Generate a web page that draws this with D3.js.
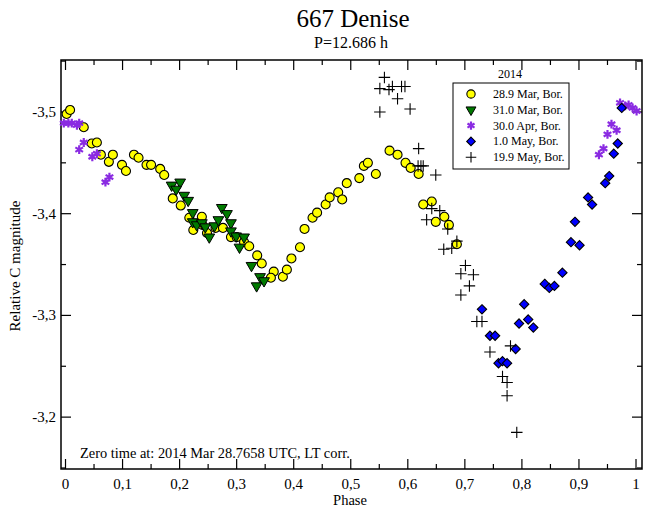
<!DOCTYPE html>
<html><head><meta charset="utf-8">
<script src="https://cdn.jsdelivr.net/npm/d3@7"></script>
<style>body{margin:0;background:#fff}svg{display:block}text{font-family:"Liberation Serif","Times New Roman",serif;fill:#000}</style>
</head><body><svg id="c" width="646" height="510"></svg>
<script>
const title = "667 Denise";
const subtitle = "P=12.686 h";
const xLabel = "Phase";
const yLabel = "Relative C magnitude";
const note = "Zero time at: 2014 Mar 28.7658 UTC, LT corr.";
const legendTitle = "2014";
const seriesNames = ["28.9 Mar, Bor.", "31.0 Mar, Bor.", "30.0 Apr, Bor.", "1.0 May, Bor.", "19.9 May, Bor."];
const xTicks = [0,0.1,0.2,0.3,0.4,0.5,0.6,0.7,0.8,0.9,1];
const yTicks = [-3.5,-3.4,-3.3,-3.2];

// [phase, magnitude]
const mar28 = [[0.002,-3.498],[0.008,-3.502],[0.032,-3.485],[0.046,-3.469],[0.055,-3.470],[0.062,-3.458],[0.076,-3.451],[0.083,-3.458],[0.099,-3.448],[0.106,-3.442],[0.120,-3.458],[0.128,-3.455],[0.142,-3.448],[0.150,-3.448],[0.166,-3.444],[0.173,-3.438],[0.188,-3.415],[0.202,-3.408],[0.217,-3.396],[0.239,-3.397],[0.224,-3.384],[0.240,-3.389],[0.248,-3.381],[0.263,-3.386],[0.276,-3.386],[0.290,-3.377],[0.300,-3.377],[0.313,-3.372],[0.322,-3.368],[0.336,-3.359],[0.344,-3.351],[0.365,-3.343],[0.360,-3.337],[0.381,-3.338],[0.388,-3.345],[0.396,-3.356],[0.411,-3.367],[0.419,-3.385],[0.433,-3.396],[0.441,-3.401],[0.456,-3.409],[0.463,-3.416],[0.478,-3.421],[0.485,-3.414],[0.493,-3.430],[0.515,-3.435],[0.523,-3.447],[0.530,-3.450],[0.544,-3.439],[0.568,-3.462],[0.582,-3.458],[0.596,-3.450],[0.605,-3.445],[0.619,-3.439],[0.627,-3.409],[0.642,-3.412],[0.649,-3.392],[0.664,-3.397],[0.672,-3.389],[0.686,-3.370]];
const mar31 = [[0.186,-3.428],[0.201,-3.431],[0.194,-3.424],[0.208,-3.418],[0.215,-3.413],[0.223,-3.401],[0.223,-3.392],[0.230,-3.389],[0.239,-3.391],[0.245,-3.387],[0.252,-3.377],[0.261,-3.388],[0.268,-3.394],[0.274,-3.406],[0.283,-3.400],[0.290,-3.391],[0.290,-3.383],[0.299,-3.378],[0.313,-3.377],[0.305,-3.367],[0.326,-3.349],[0.341,-3.338],[0.348,-3.334],[0.335,-3.329]];
const apr30 = [[-0.003,-3.489],[0.005,-3.489],[0.011,-3.489],[0.020,-3.487],[0.024,-3.489],[0.032,-3.470],[0.024,-3.463],[0.047,-3.456],[0.055,-3.459],[0.077,-3.436],[0.070,-3.431],[0.935,-3.458],[0.943,-3.464],[0.950,-3.478],[0.957,-3.488],[0.966,-3.482],[0.972,-3.509],[0.981,-3.506],[0.987,-3.507],[0.994,-3.504],[1.001,-3.501]];
const may1 = [[0.730,-3.306],[0.744,-3.280],[0.753,-3.280],[0.759,-3.253],[0.766,-3.255],[0.774,-3.253],[0.789,-3.267],[0.795,-3.292],[0.804,-3.311],[0.811,-3.296],[0.820,-3.288],[0.840,-3.331],[0.848,-3.327],[0.857,-3.329],[0.871,-3.342],[0.886,-3.372],[0.893,-3.392],[0.901,-3.369],[0.916,-3.416],[0.923,-3.409],[0.946,-3.430],[0.953,-3.437],[0.961,-3.459],[0.968,-3.469],[0.975,-3.504]];
const may19 = [[0.559,-3.534],[0.551,-3.523],[0.567,-3.522],[0.573,-3.525],[0.589,-3.525],[0.595,-3.525],[0.582,-3.513],[0.551,-3.500],[0.604,-3.503],[0.619,-3.464],[0.618,-3.447],[0.623,-3.447],[0.627,-3.447],[0.649,-3.438],[0.642,-3.405],[0.656,-3.403],[0.633,-3.394],[0.670,-3.385],[0.663,-3.365],[0.677,-3.366],[0.686,-3.373],[0.701,-3.349],[0.693,-3.341],[0.715,-3.340],[0.708,-3.329],[0.693,-3.320],[0.721,-3.294],[0.730,-3.294],[0.744,-3.264],[0.780,-3.270],[0.766,-3.240],[0.774,-3.234],[0.774,-3.221],[0.791,-3.185]];

const svg = d3.select("#c");
const L = 61, R = 642, T = 60, B = 469;
const x = d3.scaleLinear().domain([-0.0079, 1.0105]).range([L, R]);
const y = d3.scaleLinear().domain([-3.5511, -3.149]).range([T, B]);
const fmt = v => String(+v.toFixed(2)).replace(".", ",");

// titles
svg.append("text").attr("x", 353).attr("y", 27).attr("text-anchor", "middle").attr("font-size", 25).text(title);
svg.append("text").attr("x", 351).attr("y", 48).attr("text-anchor", "middle").attr("font-size", 16).text(subtitle);

// axes with inward ticks
const g = svg.append("g");
const xMinor = d3.range(0, 1.0001, 0.05);
const yMinor = [-3.55,-3.45,-3.35,-3.25,-3.15];
const tk = sel => sel.attr("stroke", "#000").attr("stroke-width", 1.2);
xMinor.forEach((v, i) => {
  const len = i % 2 === 0 ? 10 : 5;
  g.append("line").attr("x1", x(v)).attr("x2", x(v)).attr("y1", B).attr("y2", B - len).call(tk);
  g.append("line").attr("x1", x(v)).attr("x2", x(v)).attr("y1", T).attr("y2", T + len).call(tk);
});
yTicks.forEach(v => {
  g.append("line").attr("x1", L).attr("x2", L + 10).attr("y1", y(v)).attr("y2", y(v)).call(tk);
  g.append("line").attr("x1", R).attr("x2", R - 10).attr("y1", y(v)).attr("y2", y(v)).call(tk);
});
yMinor.forEach(v => {
  if (y(v) < T || y(v) > B) return;
  g.append("line").attr("x1", L).attr("x2", L + 5).attr("y1", y(v)).attr("y2", y(v)).call(tk);
  g.append("line").attr("x1", R).attr("x2", R - 5).attr("y1", y(v)).attr("y2", y(v)).call(tk);
});
xTicks.forEach(v => {
  svg.append("text").attr("x", x(v)).attr("y", 489).attr("text-anchor", "middle").attr("font-size", 15).text(fmt(v));
});
yTicks.forEach(v => {
  svg.append("text").attr("x", 56).attr("y", y(v) + 5).attr("text-anchor", "end").attr("font-size", 15).text(fmt(v));
});
svg.append("rect").attr("x", L).attr("y", T).attr("width", R - L).attr("height", B - T)
  .attr("fill", "none").attr("stroke", "#000").attr("stroke-width", 1.5);

svg.append("text").attr("x", 350).attr("y", 505).attr("text-anchor", "middle").attr("font-size", 14.5).text(xLabel);
svg.append("text").attr("transform", "translate(20,266) rotate(-90)").attr("text-anchor", "middle").attr("font-size", 15).text(yLabel);
svg.append("text").attr("x", 80).attr("y", 458).attr("font-size", 14.4).text(note);

// markers
const styles = [
  {type: d3.symbolCircle, size: 64, fill: "#ffff00", stroke: "#000", sw: 1.1},
  {type: d3.symbolTriangle, size: 50, fill: "#007a00", stroke: "#000", sw: 1, rot: 180},
  {type: d3.symbolAsterisk, size: 55, fill: "none", stroke: "#8a2be2", sw: 2.2},
  {type: d3.symbolDiamond2, size: 55, fill: "#0000ff", stroke: "#000", sw: 1.1},
  {type: d3.symbolPlus, size: 45, fill: "none", stroke: "#000", sw: 1.1}
];
const allData = [mar28, mar31, apr30, may1, may19];
const plot = svg.append("g");
allData.forEach((data, i) => {
  const s = styles[i];
  const sym = d3.symbol().type(s.type).size(s.size);
  plot.append("g").selectAll("path").data(data).join("path")
    .attr("d", sym)
    .attr("transform", d => `translate(${x(d[0])},${y(d[1])})` + (s.rot ? ` rotate(${s.rot})` : ""))
    .attr("fill", s.fill).attr("stroke", s.stroke).attr("stroke-width", s.sw);
});

// legend
svg.append("text").attr("x", 510).attr("y", 78).attr("text-anchor", "middle").attr("font-size", 12).text(legendTitle);
const lg = svg.append("g");
lg.append("rect").attr("x", 453).attr("y", 83).attr("width", 116).attr("height", 86)
  .attr("fill", "#fff").attr("stroke", "#000").attr("stroke-width", 1);
seriesNames.forEach((n, i) => {
  const s = styles[i];
  const cy = 94 + i * 15.8;
  lg.append("path").attr("d", d3.symbol().type(s.type).size(s.size * 0.85))
    .attr("transform", `translate(471,${cy})` + (s.rot ? ` rotate(${s.rot})` : ""))
    .attr("fill", s.fill).attr("stroke", s.stroke).attr("stroke-width", s.sw);
  lg.append("text").attr("x", 493).attr("y", cy + 4).attr("font-size", 12).text(n);
});
</script></body></html>
